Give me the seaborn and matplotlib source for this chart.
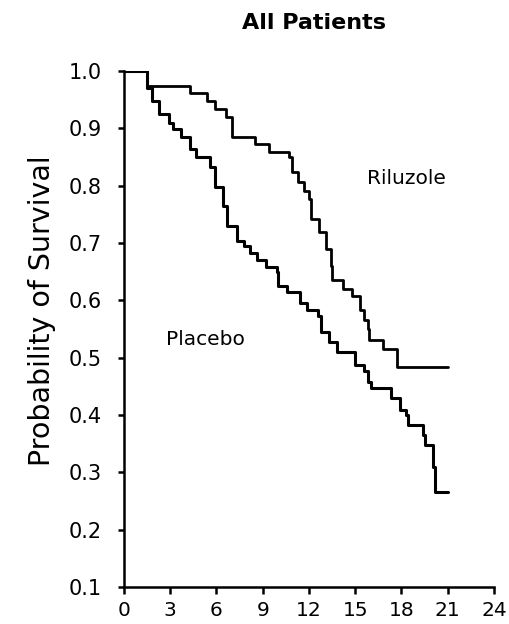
import matplotlib
matplotlib.use("Agg")
import matplotlib.pyplot as plt
import seaborn as sns
import pandas as pd

# Kaplan-Meier step data (months, survival probability after each step)
riluzole_t = [0, 1.5, 4.3, 5.4, 5.9, 6.6, 7.0, 8.5, 9.4, 10.7, 10.9, 11.3, 11.7,
              12.0, 12.1, 12.65, 13.1, 13.4, 13.5, 14.2, 14.8, 15.3, 15.6, 15.8,
              15.9, 16.8, 17.7, 21.0]
riluzole_s = [1.0, 0.974, 0.962, 0.948, 0.934, 0.92, 0.885, 0.872, 0.858, 0.85,
              0.823, 0.806, 0.79, 0.776, 0.741, 0.72, 0.69, 0.66, 0.636, 0.619,
              0.607, 0.584, 0.565, 0.55, 0.53, 0.515, 0.483, 0.483]

placebo_t = [0, 1.5, 1.8, 2.3, 2.9, 3.2, 3.7, 4.3, 4.7, 5.6, 5.9, 6.4, 6.7, 7.3,
             7.8, 8.2, 8.6, 9.2, 9.9, 10.0, 10.6, 11.4, 11.9, 12.6, 12.8, 13.3,
             13.8, 15.0, 15.6, 15.8, 16.0, 17.3, 17.9, 18.3, 18.4, 19.4, 19.5,
             20.05, 20.2, 21.0]
placebo_s = [1.0, 0.97, 0.948, 0.925, 0.91, 0.899, 0.885, 0.864, 0.85, 0.832,
             0.797, 0.764, 0.73, 0.703, 0.694, 0.683, 0.671, 0.659, 0.649, 0.625,
             0.614, 0.596, 0.584, 0.572, 0.544, 0.528, 0.51, 0.488, 0.476, 0.458,
             0.447, 0.43, 0.409, 0.40, 0.383, 0.365, 0.348, 0.31, 0.266, 0.266]

x_ticks = [0, 3, 6, 9, 12, 15, 18, 21, 24]
y_ticks = [0.1, 0.2, 0.3, 0.4, 0.5, 0.6, 0.7, 0.8, 0.9, 1.0]

sns.set_style("ticks", {"axes.edgecolor": "black", "xtick.color": "black",
                        "ytick.color": "black", "text.color": "black",
                        "axes.labelcolor": "black"})
plt.rcParams['font.family'] = ['DejaVu Sans']

fig = plt.figure(figsize=(5.1, 6.24), dpi=100)
ax = fig.add_axes([124/510, 1-587/624, 370/510, (587-71)/624])

df_r = pd.DataFrame({"t": riluzole_t, "s": riluzole_s})
df_p = pd.DataFrame({"t": placebo_t, "s": placebo_s})
sns.lineplot(data=df_r, x="t", y="s", drawstyle="steps-post", estimator=None,
             color="black", linewidth=2.0, ax=ax)
sns.lineplot(data=df_p, x="t", y="s", drawstyle="steps-post", estimator=None,
             color="black", linewidth=2.2, ax=ax)

ax.set_xlim(0, 24)
ax.set_ylim(0.1, 1.0)
ax.set_xticks(x_ticks)
ax.set_xticklabels([str(v) for v in x_ticks])
ax.set_yticks(y_ticks)
ax.set_yticklabels([f"{v:.1f}" for v in y_ticks])
ax.tick_params(axis="x", length=5, width=1.8, labelsize=14.5, pad=5, direction="out")
ax.tick_params(axis="y", length=4, width=1.8, labelsize=15, pad=12, direction="out")
for sp in ["left", "bottom"]:
    ax.spines[sp].set_linewidth(1.8)
sns.despine(ax=ax)

ax.set_xlabel("")
ax.set_ylabel("Probability of Survival", fontsize=20.5)
ax.yaxis.set_label_coords(-0.185, 0.535)

ax.text(18.35, 0.813, "Riluzole", fontsize=14.5, ha="center", va="center")
ax.text(5.3, 0.531, "Placebo", fontsize=14.5, ha="center", va="center")

fig.text(314/510, 1-23/624, "All Patients", fontsize=16, fontweight="bold",
         ha="center", va="center")

fig.savefig("out.png", dpi=100)
